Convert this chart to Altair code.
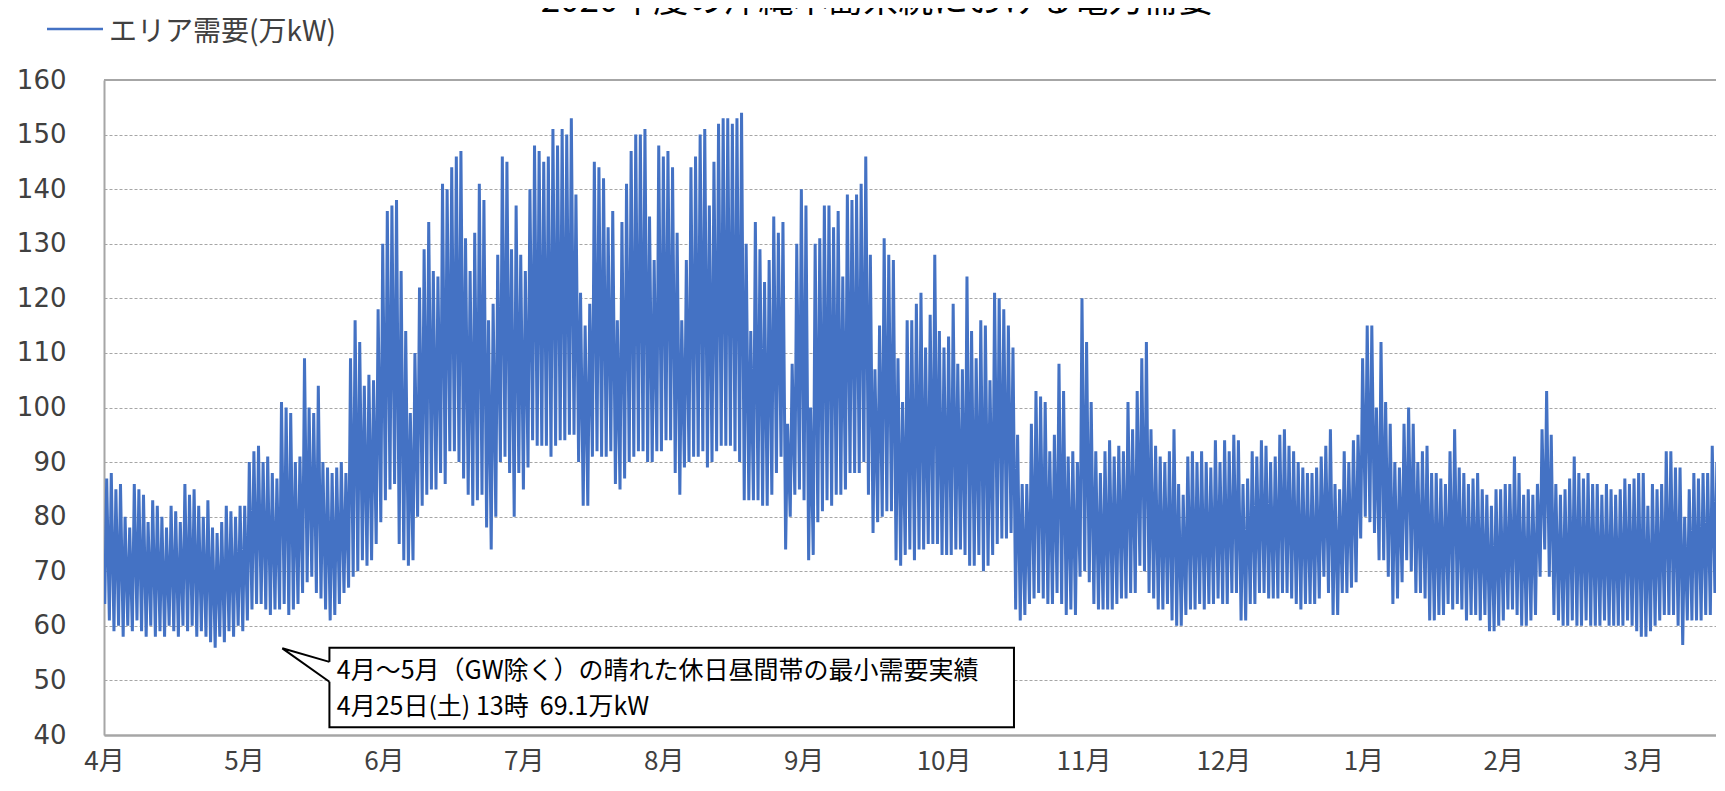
import json
import altair as alt
import pandas as pd

# ---------------- data ----------------
MONTH_LABELS = ["4月", "5月", "6月", "7月", "8月", "9月", "10月", "11月", "12月", "1月", "2月", "3月"]
Y_TICKS = [40, 50, 60, 70, 80, 90, 100, 110, 120, 130, 140, 150, 160]

# daily peak (afternoon) demand, 万kW, from 1 April 2020
DAILY_MAX = [
    87, 88, 85, 86, 80, 78, 86, 85, 84, 79, 83, 82, 80, 78, 82, 81, 79, 86, 84, 85,
    82, 80, 83, 78, 77, 79, 82, 81, 80, 82,
    82, 90, 92, 93, 90, 91, 88, 87,
    101, 100, 99, 90, 91, 109, 100, 99, 104, 90, 89, 88,
    89, 90, 88, 109, 116, 112, 104, 106, 105,
    118, 130, 136, 137, 138, 125, 114, 99, 110, 122, 129, 134,
    125, 124, 141, 140, 144, 146, 147, 131, 125, 132,
    141, 138, 116, 119, 128, 146, 145, 129, 137, 128,
    125, 140, 148, 147, 145, 146, 151, 148, 151, 150,
    153, 139, 121, 115, 119, 145, 144, 142, 133, 136,
    116, 134, 141, 147, 150, 150, 151, 135, 127, 148,
    146, 147, 144, 132, 116, 127, 144, 146, 150, 151,
    137, 145, 152, 153, 153, 152, 153, 154, 130, 114,
    134, 129, 123, 127, 135, 132, 134, 97, 108, 130,
    140, 137, 100, 130, 131, 137, 137, 133, 136, 124,
    139, 138, 139, 141, 146, 128, 107, 115, 131, 128,
    127, 109, 101, 116, 116, 119, 121, 111, 117, 128,
    114, 111, 113, 119, 108, 107, 124, 114, 109, 116,
    115, 105, 121, 120, 118, 115, 111, 95, 86, 86,
    97, 103, 102, 101, 92, 95, 108, 103, 91, 92,
    90, 120, 112, 101, 92, 88, 92, 94, 91, 93,
    92, 101, 96, 103, 109, 112, 96, 93, 91, 90,
    92, 96, 86, 84, 91, 92, 90, 92, 90, 89,
    94, 90, 94, 92, 95, 94, 86, 87, 92, 91,
    94, 93, 90, 91, 95, 96, 93, 92, 90, 89,
    88, 88, 89, 91, 93, 96, 86, 85, 92, 90,
    94, 95, 109, 115, 115, 100, 112, 101, 97, 90,
    89, 97, 100, 97, 90, 92, 93, 88, 88, 87,
    86, 92, 96, 89, 88, 86, 87, 88, 85, 84,
    82, 85, 85, 86, 86, 91, 88, 84, 85, 84,
    86, 96, 103, 95, 86, 84, 85, 87, 91, 88,
    87, 88, 86, 86, 84, 86, 85, 84, 85, 87,
    86, 87, 88, 88, 82, 86, 85, 86, 92, 92,
    89, 89, 80, 85, 88, 87, 88, 88, 93, 90, 88,
]
# daily night-time minimum demand, 万kW
DAILY_MIN = [
    64, 61, 59, 60, 58, 60, 59, 61, 59, 58, 60, 58, 59, 58, 60, 59, 58, 60, 59, 60,
    58, 59, 58, 57, 56, 58, 57, 59, 58, 60,
    59, 61, 63, 64, 64, 63, 62, 63,
    63, 64, 62, 63, 64, 66, 68, 69, 66, 65, 63, 61,
    62, 64, 66, 67, 69, 70, 72, 71, 72,
    75, 79, 83, 85, 86, 75, 72, 71, 72, 80, 82, 84,
    85, 85, 88, 86, 92, 92, 90, 87, 84, 82,
    83, 84, 78, 74, 80, 90, 91, 88, 80, 88,
    85, 89, 94, 93, 93, 93, 91, 93, 94, 94,
    95, 95, 90, 82, 82, 91, 92, 91, 91, 92,
    86, 85, 87, 90, 91, 92, 92, 90, 90, 92,
    92, 94, 94, 88, 84, 89, 90, 91, 91, 92,
    89, 90, 92, 93, 93, 93, 92, 90, 83, 83,
    83, 83, 82, 82, 84, 88, 91, 74, 80, 84,
    85, 83, 72, 73, 79, 81, 83, 82, 84, 84,
    85, 88, 88, 88, 90, 84, 77, 79, 80, 81,
    81, 72, 71, 73, 74, 72, 74, 74, 75, 75,
    75, 73, 73, 73, 74, 74, 73, 71, 71, 73,
    70, 71, 73, 75, 76, 76, 77, 63, 61, 62,
    64, 65, 66, 65, 64, 64, 66, 64, 62, 63,
    62, 69, 70, 68, 64, 63, 63, 63, 63, 64,
    65, 65, 66, 66, 71, 70, 66, 65, 63, 63,
    64, 61, 60, 60, 62, 63, 63, 64, 63, 64,
    64, 65, 64, 64, 66, 66, 61, 61, 64, 64,
    66, 66, 65, 65, 65, 66, 66, 65, 64, 63,
    64, 64, 64, 65, 69, 66, 62, 62, 66, 66,
    67, 68, 76, 80, 79, 77, 72, 72, 69, 64,
    65, 68, 72, 70, 66, 66, 65, 61, 61, 62,
    62, 64, 63, 64, 63, 61, 62, 62, 61, 62,
    59, 59, 60, 61, 63, 63, 62, 60, 60, 61,
    62, 69, 74, 69, 62, 61, 60, 60, 61, 60,
    60, 61, 60, 60, 60, 61, 60, 60, 60, 60,
    61, 60, 59, 58, 58, 59, 60, 61, 62, 62,
    62, 60, 56.5, 61, 61, 61, 61, 62, 62, 66, 64,
]
assert len(DAILY_MAX) == len(DAILY_MIN)

MIN_HOUR = 4    # night trough
MAX_HOUR = 14   # afternoon peak

TITLE = "2020年度の沖縄本島系統における電力需要"
LEGEND = "エリア需要(万kW)"
NOTE_LINES = [
    "4月～5月（GW除く）の晴れた休日昼間帯の最小需要実績",
    "4月25日(土) 13時\u00a0\u00a069.1万kW",
]

# ---------------- build table ----------------
rows = []
for d, (lo, hi) in enumerate(zip(DAILY_MIN, DAILY_MAX)):
    rows.append({"day": d + MIN_HOUR / 24, "v": lo})
    rows.append({"day": d + MAX_HOUR / 24, "v": hi})
df = pd.DataFrame(rows)

VISIBLE_DAYS = 350.4
W, H = 1612, 655
BLUE = "#4472C4"
GRAY = "#a6a6a6"
TXT = "#404040"
JP = "Noto Sans CJK JP"

xscale = alt.Scale(domain=[0, VISIBLE_DAYS], nice=False, zero=False)
yscale = alt.Scale(domain=[40, 160], nice=False, zero=False)

month_js = json.dumps(MONTH_LABELS, ensure_ascii=False)
xaxis = alt.Axis(
    values=[i * 365 / 12 for i in range(12)],
    labelExpr=f"{month_js}[round(datum.value*12/365)]",
    title=None, ticks=False, grid=False,
    domainColor=GRAY, domainWidth=2.5,
    labelFont=JP, labelFontSize=26, labelColor=TXT, labelPadding=13,
    labelFlush=False, labelOverlap=False,
)
yaxis = alt.Axis(
    values=Y_TICKS, title=None, ticks=False,
    grid=True, gridColor=GRAY, gridDash=[3, 2], gridWidth=1,
    domainColor=GRAY, domainWidth=2,
    labelFont="DejaVu Sans", labelFontSize=26, labelColor=TXT, labelPadding=38,
    labelFlush=False,
)

line = alt.Chart(df).mark_line(color=BLUE, strokeWidth=3, clip=True).encode(
    x=alt.X("day:Q", scale=xscale, axis=xaxis, title=None),
    y=alt.Y("v:Q", scale=yscale, axis=yaxis, title=None),
)

top_border = alt.Chart(pd.DataFrame({"v": [160]})).mark_rule(color=GRAY, strokeWidth=2).encode(
    y=alt.Y("v:Q", title=None)
)

# callout box (positioned in data units)
box_df = pd.DataFrame({"day": [49.0], "day2": [197.8], "v": [56.0], "v2": [41.4]})
box = alt.Chart(box_df).mark_rect(fill="white", stroke="black", strokeWidth=2).encode(
    x=alt.X("day:Q", title=None), x2="day2", y=alt.Y("v:Q", title=None), y2="v2"
)
gap_df = pd.DataFrame({"day": [49.0], "v": [53.4], "v2": [49.76]})
gap = alt.Chart(gap_df).mark_rule(color="white", strokeWidth=5).encode(
    x=alt.X("day:Q", title=None), y=alt.Y("v:Q", title=None), y2="v2"
)
ptr_df = pd.DataFrame({"day": [49.0, 38.76, 49.0], "v": [53.4, 55.88, 49.76], "o": [0, 1, 2]})
pointer = alt.Chart(ptr_df).mark_line(color="black", strokeWidth=2).encode(
    x=alt.X("day:Q", title=None), y=alt.Y("v:Q", title=None), order="o:O"
)
note_df = pd.DataFrame({"day": [50.6], "v": [50.34], "t": ["\n".join(NOTE_LINES)]})
note = alt.Chart(note_df).mark_text(
    align="left", baseline="alphabetic", font=JP, fontSize=25, color="black",
    lineBreak="\n", lineHeight=36.5,
).encode(x=alt.X("day:Q", title=None), y=alt.Y("v:Q", title=None), text="t:N")

# legend (top-left, outside the plot)
leg_line = alt.Chart(pd.DataFrame({"a": [0]})).mark_rule(color=BLUE, strokeWidth=2.5).encode(
    x=alt.value(-57), x2=alt.value(-1), y=alt.value(-51)
)
leg_text = alt.Chart(pd.DataFrame({"t": [LEGEND]})).mark_text(
    align="left", baseline="alphabetic", font=JP, fontSize=28, color=TXT
).encode(x=alt.value(5), y=alt.value(-39), text="t:N")

# title (cut at the top edge, as in the source picture)
title = alt.Chart(pd.DataFrame({"t": [TITLE]})).mark_text(
    align="center", baseline="alphabetic", font=JP, fontSize=35, color="black"
).encode(x=alt.value(773), y=alt.value(-68), text="t:N")

chart = alt.layer(
    line, top_border, box, gap, pointer, note, leg_line, leg_text, title
).properties(
    width=W, height=H,
    autosize=alt.AutoSizeParams(type="none"),
    padding={"left": 96, "top": 72, "right": 0, "bottom": 41},
).configure_view(stroke="transparent")

chart.save("out.html", embed_options={"renderer": "svg", "actions": False})
